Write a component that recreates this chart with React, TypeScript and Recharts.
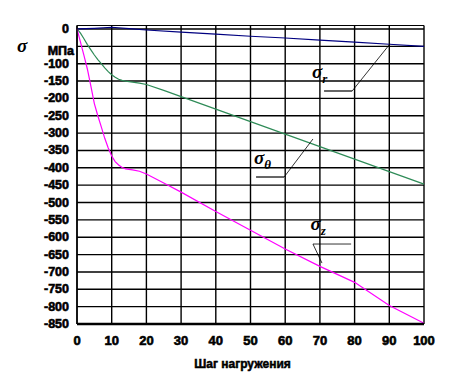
import React from 'react';
import {
  LineChart,
  Line,
  XAxis,
  YAxis,
  CartesianGrid,
  ReferenceLine,
  ReferenceDot,
} from 'recharts';

// loading steps and stresses (MPa)
const steps = [0, 1, 2, 3, 4, 5, 6, 7, 8, 9, 10, 11, 12, 13, 14, 16, 18, 20, 25, 30, 40, 50, 60, 70, 80, 90, 100];
const sigmaR = [0, null, null, null, null, 2, null, null, null, null, 5, null, null, null, null, 0, null, -3, null, -9, -15, -21, -26, -32, -38, -44, -50];
const sigmaTheta = [0, -12, -28, -45, -60, -75, -88, -100, -112, -123, -132, -139, -145, -148, -150, -153, -156, -160, -177, -195, -231, -267, -303, -339, -375, -411, -447];
const sigmaZ = [0, -38, -76, -116, -165, -215, -250, -282, -315, -343, -366, -382, -392, -399, -403, -406, -410, -418, -444, -470, -526, -580, -634, -684, -730, -797, -848];

const xTicks = [0, 10, 20, 30, 40, 50, 60, 70, 80, 90, 100];
const yTicks = [0, -50, -100, -150, -200, -250, -300, -350, -400, -450, -500, -550, -600, -650, -700, -750, -800, -850];

// curve labels: [step, value] of text start, and leader polyline points
const curveSubs = ['r', 'θ', 'z'];
const labelAt = [
  [67.7, -140],
  [51.0, -388],
  [67.3, -578],
];
const leaders = [
  [[71.2, -178.7], [79.3, -178.7], [90.2, -43]],
  [[51.6, -426.5], [59.7, -426.5], [68.0, -317]],
  [[79.0, -619.6], [68.0, -619.6], [70.6, -674.4]],
];

const data = steps.map((s, i) => ({
  step: s,
  r: sigmaR[i],
  theta: sigmaTheta[i],
  z: sigmaZ[i],
}));

const font = '"Liberation Sans", Arial, sans-serif';
const greek = '"Liberation Serif", "Times New Roman", serif';
const heavy = { stroke: '#000', strokeWidth: 0.6 };

const YTick = (props: any) => {
  const { x, y, payload } = props;
  const isUnit = payload.value === -50;
  return (
    <text x={isUnit ? x + 5 : x} y={isUnit ? y + 5 : y} textAnchor="end" dominantBaseline="central"
      fontFamily={font} fontWeight="bold" fontSize={12.5} fill="#000" {...heavy}>
      {isUnit ? 'МПа' : payload.value}
    </text>
  );
};

const XTick = (props: any) => {
  const { x, y, payload } = props;
  return (
    <text x={x} y={y + 13} textAnchor="middle"
      fontFamily={font} fontWeight="bold" fontSize={13} fill="#000" {...heavy}>
      {payload.value}
    </text>
  );
};

const SigmaLabel = (props: any) => {
  const { cx, cy, sub } = props;
  return (
    <text x={cx} y={cy} fontFamily={greek} fontWeight="bold" fontStyle="italic" fontSize={19} fill="#000">
      σ
      <tspan fontSize={13} dy={5}>{sub}</tspan>
    </text>
  );
};

const App: React.FC = () => {
  return (
    <div style={{ width: 446, height: 366 }}>
      <LineChart
        width={446}
        height={366}
        data={data}
        margin={{ top: 17.5, right: 30, left: 0, bottom: 20 }}
      >
        <CartesianGrid stroke="#000" strokeWidth={1.4} verticalValues={xTicks} horizontalValues={yTicks} />
        <XAxis
          type="number"
          dataKey="step"
          domain={[0, 100]}
          ticks={xTicks}
          interval={0}
          tickLine={false}
          axisLine={{ stroke: '#000', strokeWidth: 2.5 }}
          tick={<XTick />}
          height={30}
          label={{
            value: 'Шаг нагружения',
            position: 'insideBottom',
            offset: -14,
            dx: -8,
            style: { fill: '#000', fontFamily: font, fontWeight: 'bold', fontSize: 12, stroke: '#000', strokeWidth: 0.5 },
          }}
        />
        <YAxis
          type="number"
          domain={[-850, 10]}
          ticks={yTicks}
          interval={0}
          width={69}
          tickLine={false}
          axisLine={{ stroke: '#000', strokeWidth: 1.4 }}
          tick={<YTick />}
          label={{
            value: 'σ',
            position: 'insideTopLeft',
            content: () => (
              <text x={9} y={44} fontFamily={greek} fontWeight="bold" fontStyle="italic" fontSize={19} fill="#000">
                σ
              </text>
            ),
          }}
        />
        <ReferenceLine y={10} stroke="#000" strokeWidth={1.2} />
        <Line type="linear" dataKey="r" stroke="#000080" strokeWidth={1.2} dot={false} connectNulls isAnimationActive={false} />
        <Line type="linear" dataKey="theta" stroke="#2E8B57" strokeWidth={1.2} dot={false} isAnimationActive={false} />
        <Line type="linear" dataKey="z" stroke="#FF00FF" strokeWidth={1.2} dot={false} isAnimationActive={false} />
        {leaders.map((pts, i) =>
          pts.slice(1).map((p, j) => (
            <ReferenceLine
              key={`l${i}-${j}`}
              segment={[
                { x: pts[j][0], y: pts[j][1] },
                { x: p[0], y: p[1] },
              ]}
              stroke="#000"
              strokeWidth={j === 0 && i !== 2 ? 1.2 : 0.8}
            />
          ))
        )}
        {labelAt.map((p, i) => (
          <ReferenceDot
            key={`t${i}`}
            x={p[0]}
            y={p[1]}
            r={0}
            shape={(sp: any) => <SigmaLabel cx={sp.cx} cy={sp.cy} sub={curveSubs[i]} />}
          />
        ))}
      </LineChart>
    </div>
  );
};

export default App;
